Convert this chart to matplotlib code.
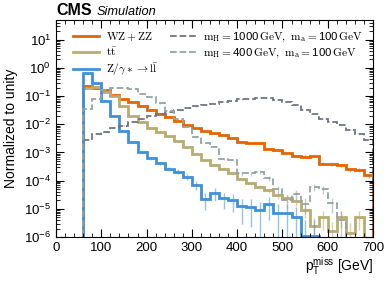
import numpy as np
import matplotlib
matplotlib.use("Agg")
import matplotlib.pyplot as plt
from matplotlib.lines import Line2D

plt.rcParams['font.family'] = ['Liberation Sans', 'DejaVu Sans']
plt.rcParams['mathtext.fontset'] = 'custom'
plt.rcParams['mathtext.rm'] = 'Liberation Sans'
plt.rcParams['mathtext.it'] = 'Liberation Sans:italic'
plt.rcParams['mathtext.bf'] = 'Liberation Sans:bold'

# 20 GeV bins from 60 to 700
edges = np.arange(60, 701, 20)

wz_zz = [0.22, 0.2, 0.16, 0.11, 0.08, 0.06, 0.045, 0.032, 0.024, 0.018,
         0.013, 0.0095, 0.0072, 0.0059, 0.005, 0.0041, 0.0034, 0.0024, 0.0022, 0.0022,
         0.0013, 0.0012, 0.00095, 0.00075, 0.00072, 0.00075, 0.0004, 0.00038, 0.00035, 0.00025,
         0.00024, 0.00016]
ttbar = [0.2, 0.21, 0.14, 0.1, 0.045, 0.02, 0.012, 0.0075, 0.0055, 0.0037,
         0.0025, 0.0016, 0.0009, 0.00054, 0.00036, 0.00027, 0.00018, 0.00011, 8e-5, 6e-5,
         4.5e-5, 3e-5, 2.4e-5, 1.9e-5, 9e-6, 2.5e-6, 5e-6, 1.7e-6, 5.3e-6, 1.4e-6,
         5e-6, 1e-9]
dy = [0.65, 0.3, 0.07, 0.02, 0.0056, 0.0024, 0.00105, 0.00062, 0.00041, 0.00027,
      0.00021, 0.00014, 7e-5, 2.3e-5, 3.6e-5, 2.4e-5, 2.1e-5, 1.3e-5, 1.2e-5, 9e-6,
      1.5e-5, 7e-6, 7e-6, 5e-6, 1.1e-6, 1.1e-6, 1e-9, 1e-9, 1e-9, 1e-9,
      1e-9, 1e-9]
sig1000 = [0.0028, 0.0045, 0.0055, 0.0075, 0.009, 0.012, 0.015, 0.02, 0.024, 0.028,
           0.033, 0.038, 0.043, 0.047, 0.052, 0.062, 0.068, 0.076, 0.082, 0.085,
           0.085, 0.075, 0.062, 0.048, 0.033, 0.024, 0.016, 0.012, 0.0095, 0.0065,
           0.0045, 0.0028]
sig400 = [0.035, 0.08, 0.16, 0.19, 0.19, 0.18, 0.12, 0.09, 0.055, 0.03,
          0.016, 0.008, 0.0035, 0.0022, 0.0016, 0.0006, 0.00055, 0.00018, 0.00018, 0.0002,
          0.00012, 5e-5, 2e-5, 3.5e-5, 1.5e-5, 6e-5, 5e-5, 1.6e-5, 4e-6, 1e-9,
          1e-9, 1e-9]

# MC stat scale per sample (err = sqrt(w * value))
stat_w = {'wz': 6e-6, 'tt': 2e-6, 'dy': 8e-6, 's1000': 1e-6, 's400': 5e-6}

fig = plt.figure(figsize=(3.89, 2.83), dpi=100)
ax = fig.add_axes([0.144, 0.1625, 0.815, 0.7665])

centers = 0.5 * (edges[1:] + edges[:-1])
series = [
    (wz_zz, '#e76300', '-', 2.0, r'$\mathrm{WZ + ZZ}$', 'wz'),
    (ttbar, '#b9ac70', '-', 2.0, r'$\mathrm{t\bar{t}}$', 'tt'),
    (dy, '#3f90da', '-', 2.0, r'$\mathrm{Z/\gamma*\rightarrow l\bar{l}}$', 'dy'),
    (sig1000, '#717581', '--', 1.3, r'$\mathrm{m_H = }$1000$\,\mathrm{GeV,\ m_a = }$100$\,\mathrm{GeV}$', 's1000'),
    (sig400, '#94a4a2', '--', 1.3, r'$\mathrm{m_H = }$400$\,\mathrm{GeV,\ m_a = }$100$\,\mathrm{GeV}$', 's400'),
]
proxies, labels = [], []
for vals, col, ls, lw, lab, key in series:
    vals = np.array(vals)
    ax.stairs(vals, edges, baseline=1e-9, color=col, ls=ls, lw=lw)
    ok = vals > 1e-8
    err = np.sqrt(stat_w[key] * vals[ok])
    ax.errorbar(centers[ok], vals[ok], yerr=err, fmt='none', ecolor=col, alpha=0.55, lw=1.0)
    proxies.append(Line2D([], [], color=col, ls=ls, lw=lw))
    labels.append(lab)

ax.set_yscale('log')
ax.set_xlim(0, 700)
ax.set_ylim(1e-6, 50)
ax.set_xticks(np.arange(0, 701, 100))
ax.set_xticks(np.arange(0, 701, 20), minor=True)
ax.tick_params(which='both', direction='in', top=True, right=True, labelsize=9.5)
ax.tick_params(which='major', length=5.5)
ax.tick_params(which='minor', length=2.8)
ax.set_ylabel('Normalized to unity', fontsize=10)
ax.set_xlabel(r'$\mathrm{p_T^{miss}}$ [GeV]', fontsize=10, loc='right', labelpad=1)

# two columns: backgrounds left, signals right (pad right column with blank)
proxies.append(Line2D([], [], color='none'))
labels.append(' ')
leg = ax.legend(proxies, labels, ncol=2, loc='upper left', fontsize=8.2, frameon=False,
                bbox_to_anchor=(0.02, 1.0), handlelength=2.3, columnspacing=1.0,
                labelspacing=0.25, handletextpad=0.6)
for t in leg.get_texts():
    t.set_math_fontfamily('cm')

fig.text(0.145, 0.937, 'CMS', fontsize=11.5, fontweight='bold', va='bottom')
fig.text(0.248, 0.937, 'Simulation', fontsize=9.2, style='italic', va='bottom')

fig.savefig('out.png', dpi=100)
